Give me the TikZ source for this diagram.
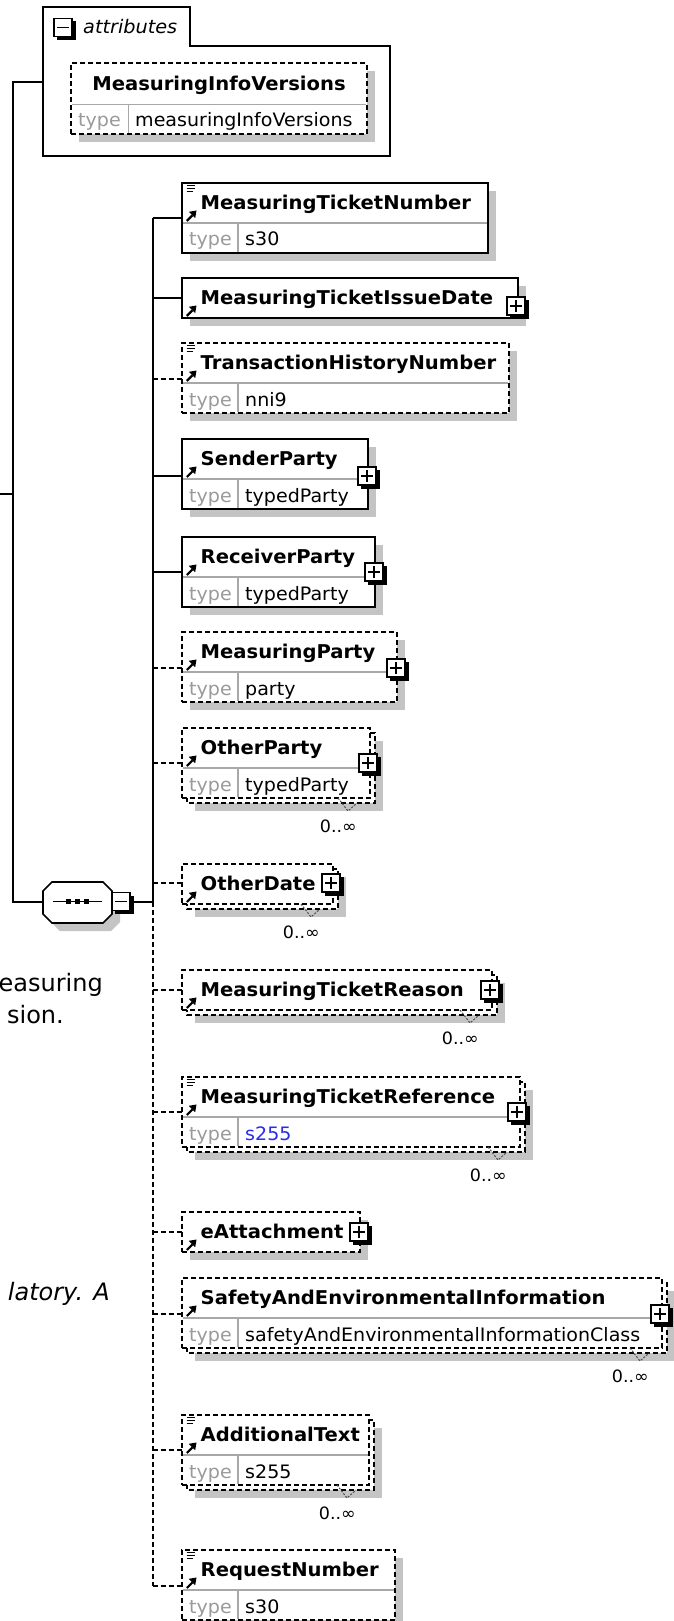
\documentclass[tikz,border=0pt]{standalone}
\usepackage{fontspec}
\setmainfont{DejaVu Sans}
\newfontfamily\zzf{DejaVu Sans}[FakeStretch=1.03]
\usetikzlibrary{arrows.meta}
\definecolor{shadowgray}{HTML}{C4C4C4}
\definecolor{typegray}{HTML}{9A9A9A}
\definecolor{divgray}{HTML}{A8A8A8}
\definecolor{valblue}{HTML}{2A2AF0}
\tikzset{
  conn/.style={line width=1.7pt, black},
  optconn/.style={conn, dash pattern=on 5pt off 3pt},
  bline/.style={draw=black, line width=1.7pt},
  dline/.style={bline, dash pattern=on 5pt off 3pt},
  elbox/.style={fill=white, inner sep=0pt, outer sep=0pt, anchor=north west},
  shadow/.style={fill=shadowgray},
  elname/.style={font={\zzf\bfseries\fontsize{19}{21}\selectfont}, anchor=base west, inner sep=0pt},
  typelbl/.style={font={\zzf\fontsize{18.5}{20}\selectfont}, text=typegray, anchor=base west, inner sep=0pt},
  typeval/.style={font={\zzf\fontsize{18.5}{20}\selectfont}, anchor=base west, inner sep=0pt},
  attrtxt/.style={font={\zzf\itshape\fontsize{18.7}{20}\selectfont}, anchor=base west, inner sep=0pt},
  divline/.style={draw=divgray, line width=1.3pt},
  mult/.style={font={\zzf\fontsize{17}{18}\selectfont}, anchor=base east, inner sep=0pt},
  desc/.style={font={\fontsize{24}{27}\selectfont}, anchor=base east, inner sep=0pt},
  tbox/.style={draw=black, line width=1.5pt, fill=white, minimum size=18pt, inner sep=0pt, outer sep=0pt},
}
% element box: id, L, T, W, H, line style, multi
\newcommand\zzelem[7]{%
  \ifnum#7=1
    \fill[shadow] ({#2+13},{#3+13}) rectangle ({#2+#4+13},{#3+#5+13});
    \draw[#6, fill=white] ({#2+5},{#3+5}) rectangle ({#2+#4+5},{#3+#5+5});
  \else
    \fill[shadow] ({#2+8},{#3+8}) rectangle ({#2+#4+8},{#3+#5+8});
  \fi
  \node[elbox, #6, minimum width=#4pt, minimum height=#5pt] (#1) at (#2,#3) {};
}
% type row: id, L, div, R, B, value
\newcommand\zztype[6]{%
  \draw[divline] ({#2+1},#3) -- ({#4-1},#3);
  \draw[divline] ({#2+56},#3) -- ({#2+56},{#5-1});
  \node[typelbl] (#1t) at ({#2+7},{#3+23}) {type};
  \node[typeval] (#1v) at ({#2+63},{#3+23}) {#6};
}
% documentation icon: top
\newcommand\zzdoc[1]{%
  \draw[line width=1.2pt] (186.5,{#1+2.5}) -- (194.5,{#1+2.5}) (186.5,{#1+5.5}) -- (194.5,{#1+5.5}) (186.5,{#1+8.5}) -- (193,{#1+8.5});
}
% reference arrow icon: top
\newcommand\zzarr[1]{%
  \draw[line width=2.2pt] (186.8,{#1+38}) -- (192.5,{#1+32.3});
  \fill (196.5,{#1+27.5}) -- (188.8,{#1+28.8}) -- (195.2,{#1+35.2}) -- cycle;
}
% plus box: id, cx, cy
\newcommand\zzplus[3]{%
  \fill[black] ({#2-6},{#3-6}) rectangle ({#2+12.5},{#3+12.5});
  \node[tbox] (#1) at (#2,#3) {};
  \draw[line width=1.5pt] ({#2-6},#3) -- ({#2+6},#3) (#2,{#3-6}) -- (#2,{#3+6});
}
\newcommand\zzminus[3]{%
  \fill[black] ({#2-6},{#3-6}) rectangle ({#2+12.5},{#3+12.5});
  \node[tbox] (#1) at (#2,#3) {};
  \draw[line width=1.5pt] ({#2-6},#3) -- ({#2+6},#3);
}
% multiplicity: id, R, B
\newcommand\zzmult[3]{%
  \draw[line width=1pt, black!70, dash pattern=on 2pt off 1.5pt] ({#2-32},#3) -- ({#2-22},{#3+13}) -- ({#2-13},{#3+5});
  \node[mult] (#1m) at ({#2-13},{#3+34}) {0..∞};
}
\begin{document}
\begin{tikzpicture}[x=1pt,y=-1pt]
\useasboundingbox (0,0) rectangle (674,1621);
\clip (0,0) rectangle (674,1621);
\fill[white] (0,0) rectangle (674,1621);

% ---------- attributes group
\draw[bline, fill=white] (43,7) -- (190,7) -- (190,45.7) -- (390,45.7) -- (390,155.7) -- (43,155.7) -- cycle;
\coordinate (attrW) at (43,81.7);
\zzminus{am}{63}{27.5}
\node[attrtxt] (attrlbl) at (83,34) {attributes};
\fill[shadow] (79,71.3) rectangle (374.7,142.3);
\node[elbox, dline, minimum width=295.7pt, minimum height=71pt] (miv) at (71,63.3) {};
\draw[divline] (72,104.3) -- (366,104.3);
\draw[divline] (128.3,104.3) -- (128.3,133.5);
\node[elname, anchor=base] (mivn) at (219,90.5) {MeasuringInfoVersions};
\node[typelbl] (mivt) at (78,126.5) {type};
\node[typeval] (mivv) at (135,126.5) {measuringInfoVersions};

% ---------- main line
\coordinate (mtop) at (13.3,81.7);
\coordinate (mpar) at (0,494);
\coordinate (mjoin) at (13.3,494);
\coordinate (mbot) at (13.3,901.7);
\coordinate (seqW) at (43,901.7);
\draw[conn] (attrW) -- (mtop) -- (mbot) -- (seqW);
\draw[conn] (mpar) -- (mjoin);

% ---------- sequence compositor
\fill[shadow] (60,890) -- (111,890) -- (120,899) -- (120,922) -- (111,931) -- (60,931) -- (51,922) -- (51,899) -- cycle;
\draw[bline, fill=white] (52,882) -- (103,882) -- (112,891) -- (112,914) -- (103,923) -- (52,923) -- (43,914) -- (43,891) -- cycle;
\draw[line width=1.4pt] (53,901.7) -- (101.7,901.7);
\fill (65.5,899) rectangle (70.5,904.4);
\fill (74.5,899) rectangle (79.5,904.4);
\fill (83.5,899) rectangle (88.5,904.4);
\coordinate (seqE) at (121,901.7);
\coordinate (cmid) at (152.7,901.7);
\draw[conn] (seqE) -- (cmid);
\zzminus{sm}{121}{901.5}

% ---------- child line
\coordinate (ctop) at (152.7,218);
\coordinate (cbot) at (152.7,1586);
\draw[conn] (ctop) -- (cmid);
\draw[optconn] (cmid) -- (cbot);

% ---------- elements
% 1 MeasuringTicketNumber
\zzelem{e1}{182}{183}{306}{70}{bline}{0}
\zztype{e1}{182}{223}{488}{253}{s30}
\zzdoc{183}\zzarr{183}
\node[elname] (e1n) at (200.5,209.5) {MeasuringTicketNumber};
\draw[conn] (ctop) -- (ctop -| e1.west);

% 2 MeasuringTicketIssueDate
\zzelem{e2}{182}{278}{336}{40}{bline}{0}
\zzarr{278}
\node[elname] (e2n) at (200.5,304) {MeasuringTicketIssueDate};
\zzplus{e2p}{516}{306}
\coordinate (j2) at (152.7,298);
\draw[conn] (j2) -- (j2 -| e2.west);

% 3 TransactionHistoryNumber
\zzelem{e3}{182}{343}{327}{70}{dline}{0}
\zztype{e3}{182}{383}{509}{413}{nni9}
\zzdoc{343}\zzarr{343}
\node[elname] (e3n) at (200.5,369.5) {TransactionHistoryNumber};
\coordinate (j3) at (152.7,379);
\draw[optconn] (j3) -- (j3 -| e3.west);

% 4 SenderParty
\zzelem{e4}{182}{439}{186}{70}{bline}{0}
\zztype{e4}{182}{479}{368}{509}{typedParty}
\zzarr{439}
\node[elname] (e4n) at (200.5,465.5) {SenderParty};
\zzplus{e4p}{367}{476}
\coordinate (j4) at (152.7,476);
\draw[conn] (j4) -- (j4 -| e4.west);

% 5 ReceiverParty
\zzelem{e5}{182}{537}{193}{70}{bline}{0}
\zztype{e5}{182}{577}{375}{607}{typedParty}
\zzarr{537}
\node[elname] (e5n) at (200.5,563.5) {ReceiverParty};
\zzplus{e5p}{374}{572}
\coordinate (j5) at (152.7,572);
\draw[conn] (j5) -- (j5 -| e5.west);

% 6 MeasuringParty
\zzelem{e6}{182}{632}{215}{70}{dline}{0}
\zztype{e6}{182}{672}{397}{702}{party}
\zzarr{632}
\node[elname] (e6n) at (200.5,658.5) {MeasuringParty};
\zzplus{e6p}{396}{668}
\coordinate (j6) at (152.7,668);
\draw[optconn] (j6) -- (j6 -| e6.west);

% 7 OtherParty
\zzelem{e7}{182}{728}{188}{70}{dline}{1}
\zztype{e7}{182}{768}{370}{798}{typedParty}
\zzarr{728}
\node[elname] (e7n) at (200.5,754.5) {OtherParty};
\zzplus{e7p}{368}{763}
\zzmult{e7}{370}{798}
\coordinate (j7) at (152.7,763);
\draw[optconn] (j7) -- (j7 -| e7.west);

% 8 OtherDate
\zzelem{e8}{182}{864}{151}{40}{dline}{1}
\zzarr{864}
\node[elname] (e8n) at (200.5,890) {OtherDate};
\zzplus{e8p}{331}{883}
\zzmult{e8}{333}{904}
\coordinate (j8) at (152.7,883);
\draw[optconn] (j8) -- (j8 -| e8.west);

% 9 MeasuringTicketReason
\zzelem{e9}{182}{970}{310}{40}{dline}{1}
\zzarr{970}
\node[elname] (e9n) at (200.5,996) {MeasuringTicketReason};
\zzplus{e9p}{490}{990}
\zzmult{e9}{492}{1010}
\coordinate (j9) at (152.7,990);
\draw[optconn] (j9) -- (j9 -| e9.west);

% 10 MeasuringTicketReference
\zzelem{e10}{182}{1077}{338}{70}{dline}{1}
\zztype{e10}{182}{1117}{520}{1147}{\textcolor{valblue}{s255}}
\zzdoc{1077}\zzarr{1077}
\node[elname] (e10n) at (200.5,1103.5) {MeasuringTicketReference};
\zzplus{e10p}{517}{1112}
\zzmult{e10}{520}{1147}
\coordinate (j10) at (152.7,1112);
\draw[optconn] (j10) -- (j10 -| e10.west);

% 11 eAttachment
\zzelem{e11}{182}{1212}{178}{40}{dline}{0}
\zzarr{1212}
\node[elname] (e11n) at (200.5,1238) {eAttachment};
\zzplus{e11p}{359}{1232}
\coordinate (j11) at (152.7,1232);
\draw[optconn] (j11) -- (j11 -| e11.west);

% 12 SafetyAndEnvironmentalInformation
\zzelem{e12}{182}{1278}{480}{70}{dline}{1}
\zztype{e12}{182}{1318}{662}{1348}{safetyAndEnvironmentalInformationClass}
\zzarr{1278}
\node[elname] (e12n) at (200.5,1304.5) {SafetyAndEnvironmentalInformation};
\zzplus{e12p}{660}{1314}
\zzmult{e12}{662}{1348}
\coordinate (j12) at (152.7,1314);
\draw[optconn] (j12) -- (j12 -| e12.west);

% 13 AdditionalText
\zzelem{e13}{182}{1415}{187}{70}{dline}{1}
\zztype{e13}{182}{1455}{369}{1485}{s255}
\zzdoc{1415}\zzarr{1415}
\node[elname] (e13n) at (200.5,1441.5) {AdditionalText};
\zzmult{e13}{369}{1485}
\coordinate (j13) at (152.7,1450);
\draw[optconn] (j13) -- (j13 -| e13.west);

% 14 RequestNumber
\zzelem{e14}{182}{1550}{213}{70}{dline}{0}
\zztype{e14}{182}{1590}{395}{1620}{s30}
\zzdoc{1550}\zzarr{1550}
\node[elname] (e14n) at (200.5,1576.5) {RequestNumber};
\draw[optconn] (cbot) -- (cbot -| e14.west);

% ---------- cut-off description text on the left
\node[desc] (d1) at (103,991) {easuring};
\node[desc] (d2) at (64,1023) {sion.};
\node[desc, font={\itshape\fontsize{24}{27}\selectfont}] (d3) at (110,1300) {latory. A};
\end{tikzpicture}
\end{document}
